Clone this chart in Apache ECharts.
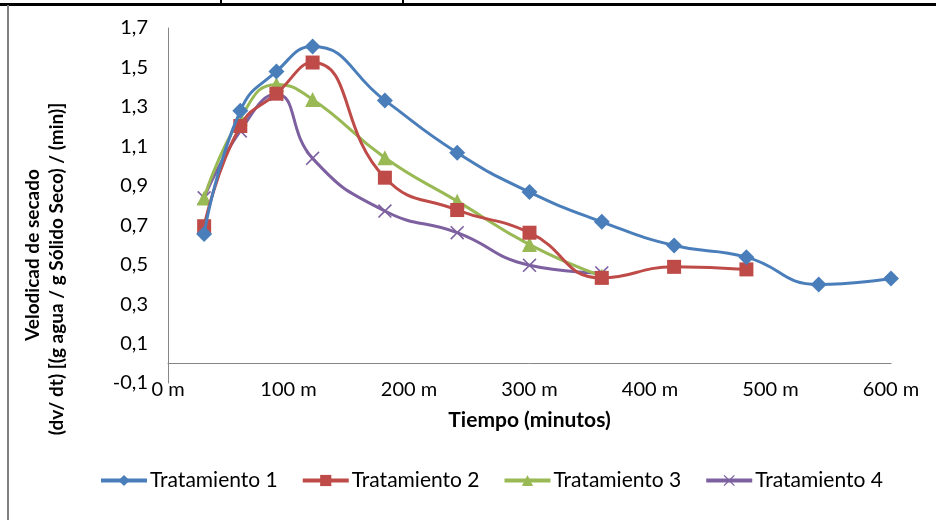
<!DOCTYPE html>
<html>
<head>
<meta charset="utf-8">
<script src="https://cdn.jsdelivr.net/npm/echarts@6/dist/echarts.min.js"></script>
<style>
  html, body { margin: 0; padding: 0; background: #fff; }
  #chart { width: 936px; height: 520px; }
</style>
</head>
<body>
<div id="chart"></div>
<script>
// Drying time (minutes) for each sample point
const tiempo = [30, 60, 90, 120, 180, 240, 300, 360, 420, 480, 540, 600];

// Drying rate per treatment
const tratamiento1 = [0.655, 1.28, 1.48, 1.606, 1.333, 1.068, 0.868, 0.717, 0.597, 0.538, 0.399, 0.43];
const tratamiento2 = [0.695, 1.203, 1.367, 1.525, 0.941, 0.777, 0.662, 0.433, 0.489, 0.476];
const tratamiento3 = [0.838, 1.242, 1.414, 1.338, 1.042, 0.822, 0.602, 0.442];
const tratamiento4 = [0.839, 1.178, 1.364, 1.039, 0.772, 0.662, 0.497, 0.458];

const seriesNames = ['Tratamiento 1', 'Tratamiento 2', 'Tratamiento 3', 'Tratamiento 4'];
const yTicks = [-0.1, 0.1, 0.3, 0.5, 0.7, 0.9, 1.1, 1.3, 1.5, 1.7];
const xTicks = [0, 100, 200, 300, 400, 500, 600];

const yTitle1 = 'Velodicad de secado';
const yTitle2 = '(dv/ dt) [(g agua / g Sólido Seco) / (min)]';
const xTitle = 'Tiempo (minutos)';

const FONT = 'Lato, "Liberation Sans", sans-serif';
const crossPath = 'path://M0,0.8 L0.8,0 L5,4.2 L9.2,0 L10,0.8 L5.8,5 L10,9.2 L9.2,10 L5,5.8 L0.8,10 L0,9.2 L4.2,5 Z';

function pairs(values) {
  return values.map((v, i) => [tiempo[i], v]);
}

const styles = [
  { color: '#4A7EBB', symbol: 'diamond', size: 16 },
  { color: '#BE4B48', symbol: 'rect', size: 14 },
  { color: '#98B954', symbol: 'triangle', size: 15 },
  { color: '#7D60A0', symbol: crossPath, size: 14 }
];
const allData = [tratamiento1, tratamiento2, tratamiento3, tratamiento4];

const chart = echarts.init(document.getElementById('chart'), null, { renderer: 'canvas' });

function vText(text, x, y) {
  return {
    type: 'text',
    x: x,
    y: y,
    rotation: Math.PI / 2,
    silent: true,
    style: {
      text: text,
      font: 'bold 19px ' + FONT,
      fill: '#000',
      align: 'center',
      verticalAlign: 'middle',
      textAlign: 'center',
      textVerticalAlign: 'middle'
    }
  };
}

chart.setOption({
  animation: false,
  backgroundColor: '#ffffff',
  textStyle: { fontFamily: FONT },
  grid: { left: 168, right: 45, top: 28, bottom: 137, containLabel: false },
  xAxis: {
    type: 'value',
    min: 0,
    max: 600,
    interval: 100,
    name: xTitle,
    nameLocation: 'middle',
    nameGap: 27,
    nameTextStyle: { fontFamily: FONT, fontWeight: 'bold', fontSize: 21, color: '#000' },
    axisLine: { show: true, onZero: true, lineStyle: { color: '#868686', width: 1 } },
    axisTick: { show: false },
    splitLine: { show: false },
    axisLabel: {
      customValues: xTicks,
      margin: -3,
      fontSize: 20,
      color: '#000',
      fontFamily: FONT,
      formatter: v => v + ' m'
    }
  },
  yAxis: {
    type: 'value',
    min: -0.1,
    max: 1.7,
    axisLine: { show: true, lineStyle: { color: '#868686', width: 1 } },
    axisTick: { show: false },
    splitLine: { show: false },
    axisLabel: {
      customValues: yTicks,
      margin: 20,
      fontSize: 20,
      color: '#000',
      fontFamily: FONT,
      formatter: v => v.toFixed(1).replace('.', ',')
    }
  },
  legend: {
    left: 99,
    top: 470,
    padding: 0,
    itemWidth: 46,
    itemHeight: 14,
    itemGap: 23,
    data: seriesNames,
    lineStyle: { width: 4 },
    textStyle: { fontFamily: FONT, fontSize: 21, color: '#000', padding: [0, 0, 0, -2] }
  },
  series: allData.map((vals, i) => ({
    name: seriesNames[i],
    type: 'line',
    data: pairs(vals),
    smooth: 0.5,
    symbol: styles[i].symbol,
    symbolSize: styles[i].size,
    showAllSymbol: true,
    color: styles[i].color,
    lineStyle: { color: styles[i].color, width: 3 },
    itemStyle: { color: styles[i].color },
    z: 10 - i
  })),
  graphic: [
    // page frame: top rule with table stubs, left border
    { type: 'rect', shape: { x: 0, y: 3, width: 936, height: 3 }, style: { fill: '#000' }, silent: true },
    { type: 'rect', shape: { x: 220, y: 0, width: 2, height: 4 }, style: { fill: '#000' }, silent: true },
    { type: 'rect', shape: { x: 402, y: 0, width: 2, height: 4 }, style: { fill: '#000' }, silent: true },
    { type: 'rect', shape: { x: 7, y: 5, width: 2, height: 515 }, style: { fill: '#7f7f7f' }, silent: true },
    // vertical axis title, two lines
    vText(yTitle1, 33, 255),
    vText(yTitle2, 57, 269)
  ]
});
</script>
</body>
</html>
